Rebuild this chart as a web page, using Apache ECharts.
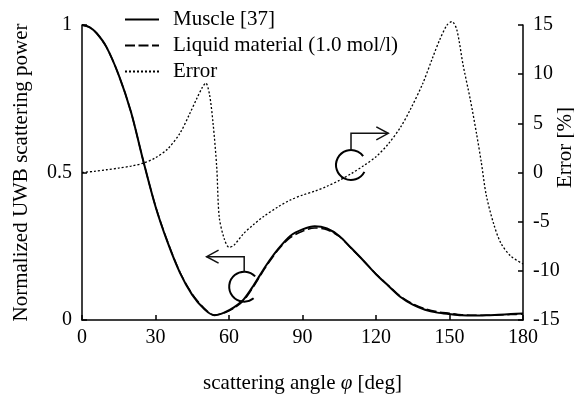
<!DOCTYPE html>
<html>
<head>
<meta charset="utf-8">
<script src="https://cdn.jsdelivr.net/npm/echarts/dist/echarts.min.js"></script>
<style>
    html, body {margin: 0; padding: 0; background: #fff;}
    #chart {width: 574px; height: 396px;}
</style>
</head>
<body>
<div id="chart"></div>
<script>
// scattering angle (deg) for the two power curves
var angles = [0, 3, 6, 10, 15, 20, 25, 30, 35, 40, 45, 50, 54, 58, 62, 66, 70, 75, 80, 85, 90, 95, 100,
    105, 110, 115, 120, 125, 130, 135, 140, 145, 150, 155, 160, 165, 170, 175, 180];
var muscle = [1.0, 0.993, 0.972, 0.925, 0.83, 0.705, 0.54, 0.385, 0.262, 0.16, 0.085, 0.036, 0.016, 0.025,
    0.043, 0.07, 0.117, 0.183, 0.24, 0.285, 0.307, 0.318, 0.31, 0.285, 0.243, 0.2, 0.155, 0.116, 0.078,
    0.052, 0.035, 0.025, 0.02, 0.016, 0.015, 0.016, 0.018, 0.02, 0.022];
var liquid = [1.0, 0.993, 0.972, 0.925, 0.83, 0.705, 0.54, 0.386, 0.264, 0.162, 0.088, 0.039, 0.017, 0.024,
    0.04, 0.066, 0.113, 0.179, 0.237, 0.279, 0.301, 0.312, 0.306, 0.283, 0.242, 0.2, 0.156, 0.118, 0.08,
    0.055, 0.038, 0.028, 0.023, 0.018, 0.016, 0.016, 0.017, 0.0183, 0.02];

// error curve (%)
var errAngles = [0, 5, 10, 15, 20, 25, 30, 35, 40, 44, 47, 49, 50.5, 52, 53.5, 55, 56, 58, 60, 62, 66, 70,
    74, 80, 85, 90, 95, 100, 105, 110, 115, 120, 125, 130, 134, 139, 143, 146, 149, 151, 153, 155.5, 158.5,
    161, 163, 165, 168, 171, 175, 180];
var errorPct = [0, 0.12, 0.28, 0.45, 0.65, 0.95, 1.5, 2.4, 4.0, 6.0, 7.6, 8.6, 9.1, 8.0, 5.0, 0.5, -4.5, -6.7,
    -7.6, -7.4, -6.2, -5.3, -4.5, -3.5, -2.8, -2.3, -1.9, -1.4, -0.8, -0.1, 0.7, 1.6, 2.9, 4.6, 6.4, 9.0,
    11.6, 13.5, 15.0, 15.35, 14.5, 11.0, 7.4, 4.0, 1.0, -2.3, -5.2, -7.2, -8.5, -9.3];

var seriesNames = ['Muscle [37]', 'Liquid material (1.0 mol/l)', 'Error'];

function pairs(xs, ys) {
    var out = [];
    for (var i = 0; i < xs.length; i++) {
        out.push([xs[i], ys[i]]);
    }
    return out;
}

var font = '"Liberation Serif", "Times New Roman", serif';
var axisLine = {show: true, lineStyle: {color: '#000', width: 1.5}};
var axisTick = {show: true, inside: true, length: 5, lineStyle: {color: '#000', width: 1.5}};

var chart = echarts.init(document.getElementById('chart'));

var option = {
    animation: false,
    backgroundColor: '#fff',
    textStyle: {fontFamily: font, color: '#000'},
    grid: {left: 82, right: 51, top: 25, bottom: 76, outerBoundsMode: 'none'},
    legend: {
        orient: 'vertical',
        left: 124,
        top: 9,
        padding: 0,
        itemWidth: 34,
        itemHeight: 14,
        itemGap: 5,
        itemStyle: {opacity: 0},
        data: seriesNames,
        textStyle: {fontFamily: font, fontSize: 21, color: '#000', lineHeight: 20, padding: [0, 0, 0, 9]}
    },
    xAxis: {
        type: 'value',
        min: 0,
        max: 180,
        interval: 30,
        name: 'scattering angle {i|φ} [deg]',
        nameLocation: 'middle',
        nameGap: 53,
        nameMoveOverlap: false,
        nameTextStyle: {
            fontFamily: font, fontSize: 21, color: '#000',
            rich: {i: {fontFamily: font, fontSize: 21, fontStyle: 'italic', color: '#000'}}
        },
        axisLine: axisLine,
        axisTick: axisTick,
        axisLabel: {fontFamily: font, fontSize: 20, color: '#000', margin: 8},
        splitLine: {show: false}
    },
    yAxis: [{
        type: 'value',
        min: 0,
        max: 1,
        interval: 0.5,
        position: 'left',
        name: 'Normalized UWB scattering power',
        nameLocation: 'middle',
        nameRotate: 90,
        nameGap: 50,
        nameMoveOverlap: false,
        nameTextStyle: {fontFamily: font, fontSize: 21, color: '#000'},
        axisLine: axisLine,
        axisTick: axisTick,
        axisLabel: {fontFamily: font, fontSize: 20, color: '#000', margin: 10},
        splitLine: {show: false}
    }, {
        type: 'value',
        min: -15,
        max: 15,
        interval: 5,
        position: 'right',
        name: 'Error [%]',
        nameLocation: 'middle',
        nameRotate: 90,
        nameGap: 32,
        nameMoveOverlap: false,
        nameTextStyle: {fontFamily: font, fontSize: 21, color: '#000', padding: [0, 0, 0, 50]},
        axisLine: axisLine,
        axisTick: axisTick,
        axisLabel: {fontFamily: font, fontSize: 20, color: '#000', margin: 10},
        splitLine: {show: false}
    }],
    series: [{
        name: seriesNames[0],
        type: 'line',
        yAxisIndex: 0,
        symbol: 'none',
        smooth: 0.3,
        color: '#000',
        lineStyle: {color: '#000', width: 2, type: 'solid'},
        data: pairs(angles, muscle)
    }, {
        name: seriesNames[1],
        type: 'line',
        yAxisIndex: 0,
        symbol: 'none',
        smooth: 0.3,
        color: '#000',
        lineStyle: {color: '#000', width: 1.5, type: [10, 3.5]},
        data: pairs(angles, liquid)
    }, {
        name: seriesNames[2],
        type: 'line',
        yAxisIndex: 1,
        symbol: 'none',
        smooth: 0.3,
        clip: false,
        color: '#000',
        lineStyle: {color: '#000', width: 1.3, type: [2, 2]},
        data: pairs(errAngles, errorPct)
    }]
};

chart.setOption(option);

// callout: circle around a curve with an arrow pointing at its axis
function callout(c, dir, gapFrom, gapTo, stemLen, armLen) {
    var r = 15;
    var ty = c[1] - stemLen;
    var tx = c[0] + dir * armLen;
    var st = {stroke: '#111', lineWidth: 1.5, fill: null};
    return [{
        type: 'arc',
        shape: {cx: c[0], cy: c[1], r: r, startAngle: gapFrom * Math.PI / 180, endAngle: gapTo * Math.PI / 180, clockwise: true},
        style: {stroke: '#000', lineWidth: 2, fill: null},
        silent: true
    }, {
        type: 'polyline',
        shape: {points: [[c[0], c[1] - r], [c[0], ty], [tx, ty]]},
        style: st,
        silent: true
    }, {
        type: 'polyline',
        shape: {points: [[tx - dir * 12, ty - 6.5], [tx, ty], [tx - dir * 12, ty + 6.5]]},
        style: st,
        silent: true
    }];
}

var c1 = chart.convertToPixel({xAxisIndex: 0, yAxisIndex: 0}, [66.2, 0.113]);
var c2 = chart.convertToPixel({xAxisIndex: 0, yAxisIndex: 1}, [109.8, 0.76]);

chart.setOption({
    graphic: callout(c1, -1, 51, 317, 30, 37.6).concat(callout(c2, 1, 27, 324, 31.7, 37.3))
});
</script>
</body>
</html>
